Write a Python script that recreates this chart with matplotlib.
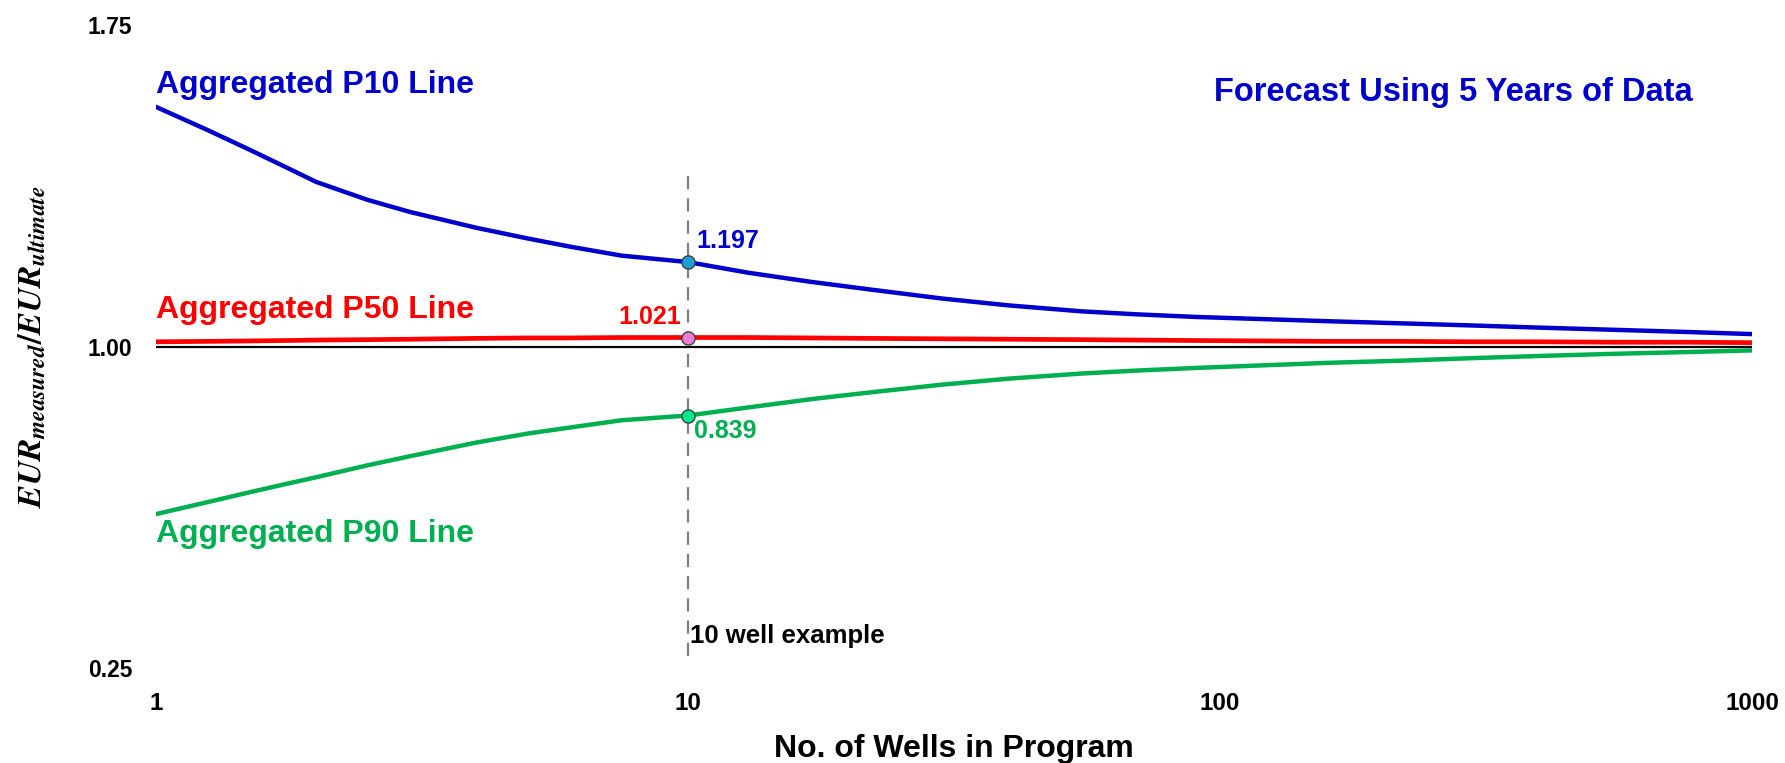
import matplotlib.pyplot as plt

plt.rcParams['font.family'] = ['Liberation Sans', 'DejaVu Sans']
plt.rcParams['font.weight'] = 'bold'
plt.rcParams['mathtext.fontset'] = 'custom'
plt.rcParams['mathtext.it'] = 'STIXGeneral:italic:bold'
plt.rcParams['mathtext.rm'] = 'STIXGeneral:bold'

# number of wells in the program
wells = [1, 1.25, 1.5, 1.75, 2, 2.5, 3, 4, 5, 6, 7.5, 10, 13, 17, 22, 30, 40, 55,
         70, 90, 120, 160, 220, 300, 400, 550, 750, 1000]

# EUR measured / EUR ultimate for the aggregated percentile lines
p10 = [1.559, 1.505, 1.459, 1.419, 1.384, 1.342, 1.314, 1.277, 1.252, 1.233, 1.212, 1.197,
       1.172, 1.151, 1.133, 1.112, 1.096, 1.082, 1.075, 1.069, 1.064, 1.059, 1.054, 1.049,
       1.044, 1.039, 1.034, 1.029]
p50 = [1.011, 1.012, 1.013, 1.014, 1.015, 1.016, 1.017, 1.019, 1.020, 1.020, 1.021, 1.021,
       1.021, 1.020, 1.019, 1.018, 1.017, 1.016, 1.015, 1.014, 1.013, 1.012, 1.012, 1.011,
       1.011, 1.010, 1.010, 1.009]
p90 = [0.609, 0.637, 0.660, 0.679, 0.695, 0.723, 0.744, 0.776, 0.797, 0.811, 0.828, 0.839,
       0.858, 0.877, 0.893, 0.911, 0.925, 0.937, 0.944, 0.950, 0.956, 0.962, 0.967, 0.973,
       0.978, 0.983, 0.987, 0.991]

example_wells = 10
example_p10 = 1.197
example_p50 = 1.021
example_p90 = 0.839

fig = plt.figure(figsize=(17.85, 7.63), dpi=100)
ax = fig.add_axes([0.0874, 0.1245, 0.8941, 0.8427])

ax.axhline(1.0, color='black', lw=1.6, zorder=2)
ax.plot(wells, p10, color='#0000CC', lw=3.2, zorder=3)
ax.plot(wells, p50, color='#FF0000', lw=3.4, zorder=3)
ax.plot(wells, p90, color='#00B050', lw=3.2, zorder=3)

# 10 well example
ax.plot([example_wells, example_wells], [0.278, 1.417], color='#808080', lw=1.6,
        dashes=(6, 4), zorder=4)
ax.plot(example_wells, example_p10, 'o', ms=9.5, mfc='#1E9ED8', mec='#404040', mew=1, zorder=5)
ax.plot(example_wells, example_p50, 'o', ms=9.5, mfc='#E77FD6', mec='#404040', mew=1, zorder=5)
ax.plot(example_wells, example_p90, 'o', ms=9.5, mfc='#00E68C', mec='#404040', mew=1, zorder=5)

ax.text(10.35, 1.245, f'{example_p10:.3f}', color='#0000CC', fontsize=18, va='center', ha='left')
ax.text(9.7, 1.070, f'{example_p50:.3f}', color='#FF0000', fontsize=18, va='center', ha='right')
ax.text(10.25, 0.802, f'{example_p90:.3f}', color='#00B050', fontsize=18, va='center', ha='left')
ax.text(10.1, 0.324, '10 well example', color='black', fontsize=18.5, va='center', ha='left')

ax.text(1.0, 1.610, 'Aggregated P10 Line', color='#0000CC', fontsize=23, va='center', ha='left')
ax.text(1.0, 1.086, 'Aggregated P50 Line', color='#FF0000', fontsize=23, va='center', ha='left')
ax.text(1.0, 0.562, 'Aggregated P90 Line', color='#00B050', fontsize=23, va='center', ha='left')

ax.text(0.813, 0.895, 'Forecast Using 5 Years of Data', transform=ax.transAxes,
        color='#0000CC', fontsize=23.5, va='center', ha='center')

ax.set_xscale('log')
ax.set_xlim(1, 1000)
ax.set_ylim(0.25, 1.75)
ax.set_xticks([1, 10, 100, 1000])
ax.set_xticklabels(['1', '10', '100', '1000'])
ax.set_yticks([0.25, 1.00, 1.75])
ax.set_yticklabels(['0.25', '1.00', '1.75'])
ax.minorticks_off()
ax.tick_params(axis='both', length=0)
ax.tick_params(axis='y', labelsize=16.5, pad=17)
ax.tick_params(axis='x', labelsize=17.5, pad=17)
for s in ax.spines.values():
    s.set_visible(False)

ax.set_xlabel('No. of Wells in Program', fontsize=23, fontweight='bold', labelpad=14)
ax.set_ylabel(r'$EUR_{measured}/EUR_{ultimate}$', fontsize=24, labelpad=28)

fig.savefig('out.png', dpi=100)
